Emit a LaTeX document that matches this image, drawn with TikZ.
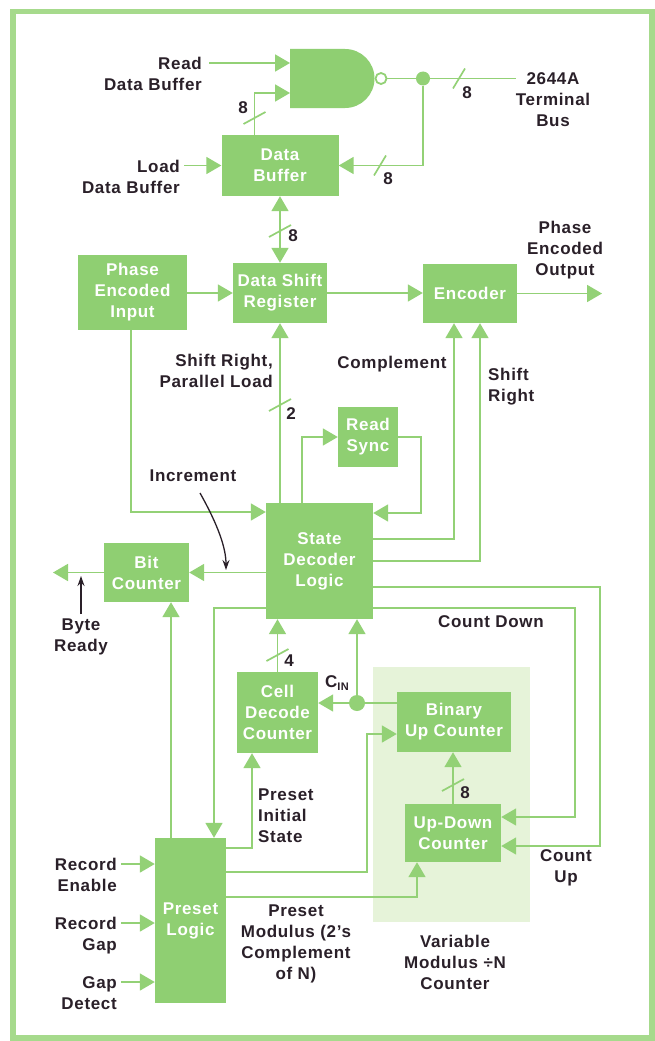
\documentclass[tikz,border=0pt]{standalone}
\usepackage{fontspec}
\setmainfont{Liberation Sans}[LetterSpace=4]
\usetikzlibrary{arrows.meta}
\definecolor{gbox}{HTML}{8FCF72}
\definecolor{gline}{HTML}{93D176}
\definecolor{gshade}{HTML}{E6F3D9}
\definecolor{gborder}{HTML}{A6DA8C}
\definecolor{ink}{HTML}{2A2029}
\begin{document}
\begin{tikzpicture}[x=1pt,y=-1pt,
  box/.style={fill=gbox, draw=none, text=white, font=\bfseries\fontsize{17}{21}\selectfont, align=center, inner sep=0pt},
  lab/.style={text=ink, font=\bfseries\fontsize{17}{21}\selectfont, inner sep=0pt},
  wire/.style={draw=gline, line width=1.8pt},
  arr/.style={wire, -{Triangle[width=17pt,length=15pt]}},
  darr/.style={wire, {Triangle[width=17pt,length=15pt]}-{Triangle[width=17pt,length=15pt]}},
  dot/.style={circle, fill=gline, draw=none, inner sep=0pt, minimum size=#1},
  bslash/.style={draw=gline, line width=1.7pt},
  pointer/.style={draw=ink, line width=1.3pt, -{Stealth[length=10pt,width=7pt]}}
]
\useasboundingbox (0,0) rectangle (655,1041);
\fill[white] (0,0) rectangle (655,1041);
\draw[gborder, line width=5.5pt] (13,11.5) rectangle (652,1038);

% shaded counter area
\fill[gshade] (373,667) rectangle (530,922);

% NAND gate
\fill[gbox] (290,49) -- (345,49) arc[start angle=-90, end angle=90, radius=29.5] -- (290,108) -- cycle;
\coordinate (gin1) at (290,63);
\coordinate (gin2) at (290,93);
\node[circle, draw=gline, line width=1.8pt, fill=white, minimum size=11pt, inner sep=0pt] (bub) at (381,78.5) {};
\node[dot=14pt] (d1) at (423,78.5) {};

% boxes
\node[box, minimum width=117pt, minimum height=61pt] (databuf) at (280,165.5) {Data\\Buffer};
\node[box, minimum width=109pt, minimum height=75pt] (pei) at (132.5,292.5) {Phase\\Encoded\\Input};
\node[box, minimum width=94pt, minimum height=60pt] (dsr) at (280,293) {Data Shift\\Register};
\node[box, minimum width=94pt, minimum height=59pt] (enc) at (470,293.5) {Encoder};
\node[box, minimum width=60pt, minimum height=60pt] (rsync) at (368,437) {Read\\Sync};
\node[box, minimum width=107pt, minimum height=116pt] (sdl) at (319.5,561) {State\\Decoder\\Logic};
\node[box, minimum width=85pt, minimum height=59pt] (bitc) at (146.5,572.5) {Bit\\Counter};
\node[box, minimum width=81pt, minimum height=81pt] (cdc) at (277.5,712.5) {Cell\\Decode\\Counter};
\node[box, minimum width=114pt, minimum height=60pt] (buc) at (454,722) {Binary\\Up Counter};
\node[box, minimum width=96pt, minimum height=58pt] (udc) at (453,833) {Up-Down\\Counter};
\node[box, minimum width=71pt, minimum height=165pt] (pl) at (190.5,920.5) {Preset\\Logic};

\node[dot=16pt] (d2) at (357,703) {};

% top section
\coordinate (readin) at (209,63);
\draw[arr] (readin) -- (gin1);
\node[lab, align=right, anchor=east] (readlab) at (202,74) {Read\\Data Buffer};
\draw[arr] ([xshift=-25.5pt]databuf.north) |- (gin2);
\draw[bslash] (254.5,118) ++(-11,6) -- ++(22,-12);
\node[lab] (l8a) at (243,108) {8};
\draw[wire] (bub.east) -- (d1);
\coordinate (bus) at (516,78.5);
\draw[wire] (d1) -- (bus);
\draw[bslash] (459,78.5) ++(-6,10) -- ++(12,-20);
\node[lab] (l8b) at (467,93) {8};
\node[lab, align=center] (buslab) at (553,100) {2644A\\Terminal\\Bus};
\draw[arr] (d1) |- (databuf.east);
\draw[bslash] (380,165.5) ++(-6,10) -- ++(12,-20);
\node[lab] (l8c) at (388,179) {8};
\coordinate (loadin) at (184,165.5);
\draw[arr] (loadin) -- (databuf.west);
\node[lab, align=right, anchor=east] (loadlab) at (180,177) {Load\\Data Buffer};
\draw[darr] (databuf.south) -- (dsr.north);
\draw[bslash] (280,231) ++(-11,6) -- ++(22,-12);
\node[lab] (l8d) at (293,236) {8};

% middle
\draw[arr] (pei.east |- dsr.west) -- (dsr.west);
\draw[arr] (dsr.east) -- (dsr.east -| enc.west);
\coordinate (phout) at (602,293.5);
\draw[arr] (enc.east) -- (phout);
\node[lab, align=center] (outlab) at (565,250) {Phase\\Encoded\\Output};

\draw[arr] (sdl.north -| dsr.south) -- (dsr.south);
\draw[bslash] (280,405) ++(-11,6) -- ++(22,-12);
\node[lab] (l2) at (291,414) {2};
\node[lab, align=right, anchor=east] (srlab) at (273,371) {Shift Right,\\Parallel Load};

\draw[arr] ([xshift=-17.5pt]sdl.north) |- (rsync.west);
\draw[arr] (rsync.east) -- ++(23,0) |- ([yshift=48pt]sdl.east);
\draw[arr] ([xshift=-1.5pt]pei.south) |- ([yshift=49pt]sdl.west);

\draw[arr] ([yshift=22pt]sdl.east) -| ([xshift=-16pt]enc.south);
\draw[arr] (sdl.east) -| ([xshift=10pt]enc.south);
\node[lab] (complab) at (392,364) {Complement};
\node[lab, align=left, anchor=west] (shlab) at (488,387) {Shift\\Right};

% bit counter
\draw[arr] (sdl.west |- bitc.east) -- (bitc.east);
\coordinate (byteout) at (53,572.5);
\draw[arr] (bitc.west) -- (byteout);
\node[lab, align=center] (bytelab) at (81,637) {Byte\\Ready};
\coordinate (bra) at (81,614);
\coordinate (brb) at (81,576);
\draw[pointer] (bra) -- (brb);
\node[lab] (inclab) at (193,476) {Increment};
\coordinate (inca) at (200,493);
\coordinate (incb) at (226,570);
\draw[pointer] (inca) .. controls (218,525) and (226,548) .. (incb);

% lower connections
\draw[arr] ([xshift=-19.5pt]pl.north) -- ([xshift=-19.5pt]pl.north |- bitc.south);
\draw[arr] ([yshift=-47pt]sdl.west) -| ([xshift=23.5pt]pl.north);
\draw[arr] ([yshift=-26pt]sdl.east) -- ++(227,0) |- ([yshift=-13pt]udc.east);
\draw[arr] ([yshift=-47pt]sdl.east) -- ++(202,0) |- ([yshift=16pt]udc.east);
\node[lab] (cdlab) at (491,622) {Count Down};
\node[lab, align=center] (culab) at (566,868) {Count\\Up};

\draw[arr] (cdc.north) -- (cdc.north |- sdl.south);
\draw[bslash] (277.5,655) ++(-11,6) -- ++(22,-12);
\node[lab] (l4) at (289,661) {4};
\draw[arr] (d2) -- (d2 |- sdl.south);
\draw[arr] (d2) -- (d2 -| cdc.east);
\draw[wire] (buc.west |- d2) -- (d2);
\node[lab] (cinlab) at (337,683) {C\raisebox{-2.5pt}{\fontsize{11}{11}\selectfont IN}};

\draw[arr] ([yshift=72.5pt]pl.east) -| ([xshift=-25.5pt]cdc.south);
\node[lab, align=left, anchor=west] (pislab) at (258,816) {Preset\\Initial\\State};
\draw[arr] ([yshift=48.5pt]pl.east) -| ([xshift=-30pt,yshift=-12pt]buc.west) -- ([yshift=-12pt]buc.west);
\draw[arr] ([yshift=23.5pt]pl.east) -| ([xshift=-36pt]udc.south);
\draw[arr] (udc.north) -- (udc.north |- buc.south);
\draw[bslash] (453,785) ++(-11,6) -- ++(22,-12);
\node[lab] (l8e) at (465,793) {8};

% preset inputs
\coordinate (rein) at (121,864);
\coordinate (rgin) at (121,923);
\coordinate (gdin) at (121,982);
\draw[arr] (rein) -- (rein -| pl.west);
\draw[arr] (rgin) -- (rgin -| pl.west);
\draw[arr] (gdin) -- (gdin -| pl.west);
\node[lab, align=right, anchor=east] (relab) at (117,875) {Record\\Enable};
\node[lab, align=right, anchor=east] (rglab) at (117,936) {Record\\Gap};
\node[lab, align=right, anchor=east] (gdlab) at (117,993) {Gap\\Detect};
\node[lab, align=center] (pmlab) at (296,944) {Preset\\Modulus (2’s\\Complement\\of N)};
\node[lab, align=center] (vmlab) at (455,962) {Variable\\Modulus ÷N\\Counter};
\end{tikzpicture}
\end{document}
